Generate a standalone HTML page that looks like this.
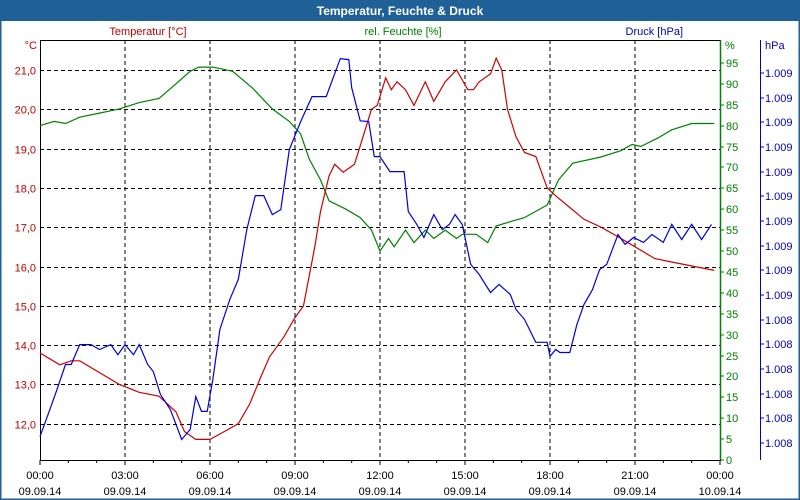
<!DOCTYPE html>
<html><head><meta charset="utf-8"><style>
body{margin:0;background:#fff;}
#wrap{position:relative;width:800px;height:500px;overflow:hidden;font-family:"Liberation Sans",sans-serif;}
text{font-family:"Liberation Sans",sans-serif;font-size:11px;}
</style></head><body>
<div id="wrap">
<svg id="chart" width="800" height="500" xmlns="http://www.w3.org/2000/svg">
<rect x="0" y="0" width="800" height="500" fill="#fff" stroke="#1f6196" stroke-width="3"/>
<rect x="0" y="0" width="800" height="21" fill="#1f6196"/>
<text x="400" y="15" text-anchor="middle" fill="#fff" font-weight="bold" style="font-size:12px">Temperatur, Feuchte &amp; Druck</text>
<text x="148" y="35" text-anchor="middle" fill="#c00000">Temperatur [°C]</text>
<text x="403" y="35" text-anchor="middle" fill="#008000">rel. Feuchte [%]</text>
<text x="683" y="35" text-anchor="end" fill="#0000c0">Druck [hPa]</text>
<text x="37" y="49" text-anchor="end" fill="#c00000">°C</text>
<text x="725" y="49" fill="#008000">%</text>
<text x="765" y="49" fill="#0000c0">hPa</text>
<g id="grid"></g><g id="axes"></g><g id="series"></g>
</svg>
</div>
<script>
const xLabelsTime=["00:00","03:00","06:00","09:00","12:00","15:00","18:00","21:00","00:00"];
const xLabelsDate=["09.09.14","09.09.14","09.09.14","09.09.14","09.09.14","09.09.14","09.09.14","09.09.14","10.09.14"];
const tempTicks=[12,13,14,15,16,17,18,19,20,21];
const humTicks=[0,5,10,15,20,25,30,35,40,45,50,55,60,65,70,75,80,85,90,95];
const presTicks=[1008.1,1008.2,1008.3,1008.4,1008.5,1008.6,1008.7,1008.8,1008.9,1009.0,1009.1,1009.2,1009.3,1009.4,1009.5,1009.6];
const presTickLabels=["1.008","1.008","1.008","1.008","1.008","1.008","1.009","1.009","1.009","1.009","1.009","1.009","1.009","1.009","1.009","1.009"];
// hours since 00:00 of 09.09.14
const tempHours=[0,0.7,1.1,1.4,2.1,2.8,3.5,4.2,4.8,5.1,5.5,6.0,6.5,7.0,7.4,7.8,8.1,8.6,9.0,9.3,9.7,9.9,10.2,10.4,10.7,11.1,11.4,11.7,11.9,12.2,12.4,12.6,12.9,13.2,13.6,13.9,14.3,14.7,15.1,15.3,15.5,15.9,16.1,16.3,16.5,16.8,17.1,17.5,17.9,18.2,18.7,19.2,19.8,20.3,21.0,21.7,22.4,23.1,23.8];
const tempValues=[13.8,13.5,13.6,13.6,13.3,13.0,12.8,12.7,12.3,11.8,11.6,11.6,11.8,12.0,12.5,13.2,13.7,14.2,14.7,15.0,16.5,17.4,18.3,18.6,18.4,18.6,19.3,20.0,20.1,20.8,20.5,20.7,20.5,20.1,20.7,20.2,20.7,21.0,20.5,20.5,20.7,20.9,21.3,21.0,20.0,19.3,18.9,18.8,18.0,17.8,17.5,17.2,17.0,16.8,16.5,16.2,16.1,16.0,15.9];
const humHours=[0,0.5,0.9,1.4,2.1,2.8,3.5,4.2,4.8,5.3,5.6,6.1,6.8,7.5,8.2,8.8,9.2,9.5,9.9,10.2,10.8,11.3,11.7,12.0,12.3,12.5,12.9,13.2,13.6,13.9,14.3,14.7,14.9,15.4,15.8,16.1,16.6,17.1,17.9,18.3,18.8,19.8,20.5,20.9,21.2,21.8,22.3,23.0,23.8];
const humValues=[80,81,80.5,82,83,84,85.5,86.5,90,93,94,94,93,89,84,81,78,72,67,62,60,58,55,50,53,51,55,52,55,53,55,53,54,54,52,56,57,58,61,67,71,72.5,74,75.5,75,77,79,80.5,80.5];
const presHours=[0,0.35,0.6,0.9,1.1,1.4,1.8,2.1,2.5,2.75,3.0,3.3,3.5,3.8,4.0,4.25,4.6,5.0,5.3,5.5,5.7,5.9,6.1,6.35,6.7,7.0,7.3,7.6,7.9,8.2,8.5,8.8,9.2,9.6,10.1,10.6,10.9,11.0,11.3,11.6,11.8,12.0,12.35,12.85,13.0,13.3,13.55,13.9,14.2,14.45,14.65,14.9,15.2,15.5,15.9,16.2,16.6,16.8,17.1,17.5,17.9,18.0,18.2,18.35,18.7,18.95,19.2,19.5,19.75,20.0,20.4,20.65,20.95,21.3,21.6,22.0,22.3,22.65,23.0,23.35,23.7,23.85];
const presY=[437,410,390,365,365,345,345,350,345,355,345,355,345,365,372,395,410,440,430,397,412,412,380,330,300,280,230,196,196,215,210,150,122,97,97,59,60,88,121,122,157,157,172,172,212,225,238,215,230,225,215,225,265,275,293,285,295,310,320,343,343,357,350,353,353,325,305,290,270,265,235,245,238,243,235,243,225,240,225,240,225];
const presValues=presY.map(function(v){return v;}).length?[1008.126,1008.236,1008.317,1008.418,1008.418,1008.499,1008.499,1008.479,1008.499,1008.458,1008.499,1008.458,1008.499,1008.418,1008.390,1008.297,1008.236,1008.114,1008.155,1008.288,1008.228,1008.228,1008.357,1008.560,1008.682,1008.763,1008.965,1009.103,1009.103,1009.026,1009.046,1009.289,1009.403,1009.504,1009.504,1009.658,1009.654,1009.540,1009.406,1009.403,1009.261,1009.261,1009.200,1009.200,1009.038,1008.986,1008.933,1009.026,1008.965,1008.986,1009.026,1008.986,1008.824,1008.783,1008.710,1008.743,1008.702,1008.641,1008.601,1008.508,1008.508,1008.451,1008.479,1008.467,1008.467,1008.580,1008.662,1008.722,1008.803,1008.824,1008.945,1008.905,1008.933,1008.913,1008.945,1008.913,1008.986,1008.925,1008.986,1008.925,1008.986]:[];
const L=40,R=720,T=40,B=460;
const NS="http://www.w3.org/2000/svg";
function xS(h){return L+h*(R-L)/24;}
function yT(t){return 70+(21-t)*39.3;}
function yH(h){return B-h*4.18;}
function yP(p){return 443-(p-1008.1)*246.7;}
function mk(tag,attrs,parent){const e=document.createElementNS(NS,tag);for(const k in attrs)e.setAttribute(k,attrs[k]);parent.appendChild(e);return e;}
const grid=document.getElementById('grid'),axes=document.getElementById('axes'),series=document.getElementById('series');
for(let i=1;i<8;i++){const x=xS(i*3);
 const g=mk('line',{x1:x,x2:x,y1:T,y2:B,stroke:'#000','stroke-dasharray':'4,3'},grid);
 
 }
tempTicks.forEach(t=>{const y=Math.round(yT(t))+0.5;
 const g=mk('line',{x1:L,x2:R,y1:y,y2:y,stroke:'#000','stroke-dasharray':'4,3'},grid);
 
 
 const tx=mk('text',{x:36,y:y+4,'text-anchor':'end',fill:'#c00000'},axes);tx.textContent=t.toFixed(1).replace('.',',');
 
 });
let b=mk('rect',{x:L+0.5,y:T+0.5,width:R-L,height:B-T,fill:'none',stroke:'#000'},axes);


let ga=mk('line',{x1:R+0.5,x2:R+0.5,y1:T,y2:B,stroke:'#008000','stroke-width':1.5},axes);


humTicks.forEach(h=>{const y=Math.round(yH(h));
 mk('line',{x1:R,x2:R+4,y1:y,y2:y,stroke:'#008000'},axes);
 const tx=mk('text',{x:R+6,y:y+4,fill:'#008000'},axes);tx.textContent=h;
 
 });
let pa=mk('line',{x1:760.5,x2:760.5,y1:T,y2:B,stroke:'#0000c0'},axes);


presTicks.forEach((p,i)=>{const y=Math.round(yP(p));
 mk('line',{x1:760,x2:764,y1:y,y2:y,stroke:'#0000c0'},axes);
 const tx=mk('text',{x:765,y:y+4,fill:'#0000c0'},axes);tx.textContent=presTickLabels[i];
 
 });
for(let h=0;h<=24;h++){const x=xS(h);mk('line',{x1:x,x2:x,y1:B,y2:B+(h%3?3:5),stroke:'#000'},axes);}
xLabelsTime.forEach((l,i)=>{const x=xS(i*3);
 const a=mk('text',{x:x,y:479,'text-anchor':'middle',fill:'#000'},axes);a.textContent=l;
 
 
 const d=mk('text',{x:x,y:495,'text-anchor':'middle',fill:'#000'},axes);d.textContent=xLabelsDate[i];
 
 });
function line(hs,vs,yf,col,name){const pts=hs.map((h,i)=>xS(h).toFixed(1)+','+yf(vs[i]).toFixed(1)).join(' ');
 const p=mk('polyline',{points:pts,fill:'none',stroke:col,'stroke-width':1.2},series);
 
 }
line(humHours,humValues,yH,'#008000','humidity-line');
line(tempHours,tempValues,yT,'#d00000','temperature-line');
line(presHours,presValues,yP,'#0000e0','pressure-line');
</script>
</body></html>
